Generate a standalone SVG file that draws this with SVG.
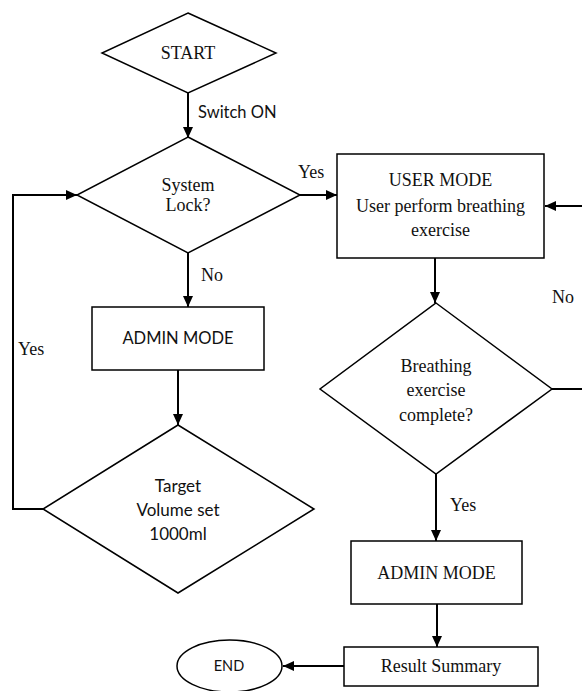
<svg xmlns="http://www.w3.org/2000/svg" width="582" height="691" viewBox="0 0 582 691">
<style>
.shape{fill:#fff;stroke:#000;stroke-width:1.5}
.conn{fill:none;stroke:#000;stroke-width:2}
.serif{font-family:"Liberation Serif","Times New Roman",serif;font-size:18px;fill:#111}
.sans{font-family:Lato,"Liberation Sans",sans-serif;font-size:16.5px;fill:#111}
.mid{text-anchor:middle}
</style>
<defs>
<marker id="arr" markerUnits="userSpaceOnUse" markerWidth="12" markerHeight="10" refX="11" refY="5" orient="auto">
<path d="M0,0 L11,5 L0,10 z" fill="#000"/>
</marker>
</defs>
<rect width="582" height="691" fill="#fff"/>
<g id="connectors">
<line class="conn" x1="188" y1="93" x2="188" y2="138" marker-end="url(#arr)"/>
<line class="conn" x1="300" y1="195" x2="337" y2="195" marker-end="url(#arr)"/>
<line class="conn" x1="188" y1="253" x2="188" y2="307" marker-end="url(#arr)"/>
<line class="conn" x1="178" y1="370" x2="178" y2="425" marker-end="url(#arr)"/>
<polyline class="conn" points="43,509 13,509 13,195 77,195" marker-end="url(#arr)"/>
<line class="conn" x1="435" y1="258" x2="435" y2="303" marker-end="url(#arr)"/>
<polyline class="conn" points="552,389 596,389 596,206 545,206" marker-end="url(#arr)"/>
<line class="conn" x1="436" y1="474" x2="436" y2="541" marker-end="url(#arr)"/>
<line class="conn" x1="437" y1="604" x2="437" y2="647" marker-end="url(#arr)"/>
<line class="conn" x1="344" y1="666" x2="283" y2="666" marker-end="url(#arr)"/>
<text class="sans" x="198" y="118">Switch ON</text>
<text class="serif" x="298" y="178">Yes</text>
<text class="serif" x="201" y="281">No</text>
<text class="serif" x="18" y="355">Yes</text>
<text class="serif" x="552" y="303">No</text>
<text class="serif" x="450" y="511">Yes</text>
</g>
<g id="start">
<polygon class="shape" points="188,13 276,53 188,93 102,53"/>
<text class="serif mid" x="188" y="59">START</text>
</g>
<g id="system-lock">
<polygon class="shape" points="188,137 300,195 188,253 77,195"/>
<text class="serif mid" x="188" y="191">System</text>
<text class="serif mid" x="188" y="211">Lock?</text>
</g>
<g id="user-mode">
<rect class="shape" x="337" y="154" width="207" height="104"/>
<text class="serif mid" x="440.5" y="186">USER MODE</text>
<text class="serif mid" x="440.5" y="212">User perform breathing</text>
<text class="serif mid" x="440.5" y="236">exercise</text>
</g>
<g id="admin-mode-1">
<rect class="shape" x="92" y="307" width="172" height="63"/>
<text class="sans mid" x="178" y="344">ADMIN MODE</text>
</g>
<g id="target-volume">
<polygon class="shape" points="178,425 314,509 178,593 43,509"/>
<text class="sans mid" x="178" y="492" style="font-size:17px">Target</text>
<text class="sans mid" x="178" y="516" style="font-size:17px">Volume set</text>
<text class="sans mid" x="178" y="540" style="font-size:17px">1000ml</text>
</g>
<g id="breathing-complete">
<polygon class="shape" points="436,303 552,389 436,474 320,389"/>
<text class="serif mid" x="436" y="372">Breathing</text>
<text class="serif mid" x="436" y="396">exercise</text>
<text class="serif mid" x="436" y="421">complete?</text>
</g>
<g id="admin-mode-2">
<rect class="shape" x="351" y="541" width="171" height="63"/>
<text class="serif mid" x="436.5" y="579">ADMIN MODE</text>
</g>
<g id="result-summary">
<rect class="shape" x="344" y="647" width="194" height="39"/>
<text class="serif mid" x="441" y="672">Result Summary</text>
</g>
<g id="end">
<ellipse class="shape" cx="229.5" cy="666" rx="52.5" ry="26"/>
<text class="sans mid" x="229" y="671" style="font-size:14.5px">END</text>
</g>
</svg>
